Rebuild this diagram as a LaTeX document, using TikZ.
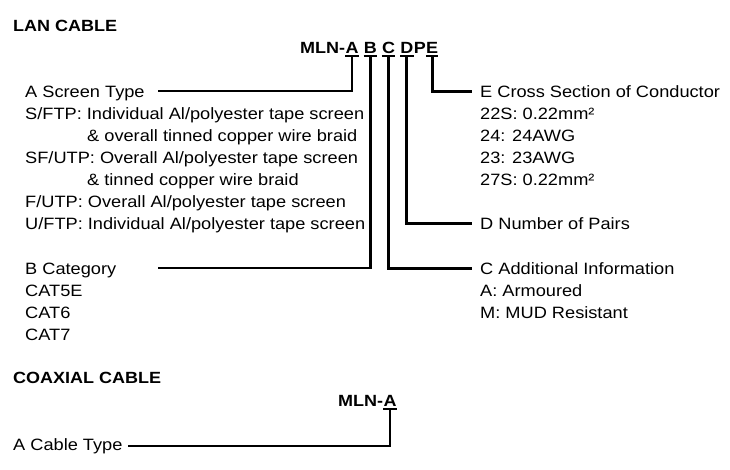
\documentclass[tikz,border=0pt]{standalone}
\usepackage{fontspec}
\setmainfont{Liberation Sans}[FakeStretch=1.11]
\usetikzlibrary{calc}
\begin{document}
\begin{tikzpicture}[x=1pt,y=-1pt,
  txt/.style={inner sep=0pt, anchor=base west, font=\fontsize{16.4}{19}\selectfont, text height=11.9pt, text depth=0pt},
  hdr/.style={txt, font=\fontsize{16.2}{19}\selectfont\bfseries},
  wire/.style={line width=2.9pt},
  uline/.style={line width=2.2pt}]
\useasboundingbox (0,0) rectangle (730,469);

% ---------- LAN CABLE ----------
\node[hdr] (lan) at (13,31) {LAN CABLE};
\node[hdr] (mln) at (300,53) {MLN-};
\node[hdr] (A) at (mln.base east) {A};
\node[hdr] (B) at ([xshift=4.9pt]A.base east) {B};
\node[hdr] (C) at ([xshift=4.9pt]B.base east) {C};
\node[hdr] (D) at ([xshift=4.9pt]C.base east) {D};
\node[hdr] (P) at (D.base east) {P};
\node[hdr] (E) at (P.base east) {E};
\foreach \n in {A,B,C,D,E}
  \draw[uline] ([yshift=-3pt]\n.base west) -- ([yshift=-3pt]\n.base east);

% left column
\node[txt] (a0) at (25,97)  {A Screen Type};
\node[txt] (a1) at (25,119) {S/FTP: Individual Al/polyester tape screen};
\node[txt] (a2) at (87,141) {\& overall tinned copper wire braid};
\node[txt] (a3) at (25,163) {SF/UTP: Overall Al/polyester tape screen};
\node[txt] (a4) at (87,185) {\& tinned copper wire braid};
\node[txt] (a5) at (25,207) {F/UTP: Overall Al/polyester tape screen};
\node[txt] (a6) at (25,229) {U/FTP: Individual Al/polyester tape screen};

\node[txt] (b0) at (25,274) {B Category};
\node[txt] (b1) at (25,296) {CAT5E};
\node[txt] (b2) at (25,318) {CAT6};
\node[txt] (b3) at (25,340) {CAT7};

% right column
\node[txt] (e0) at (480,97)  {E Cross Section of Conductor};
\node[txt] (e1) at (480,119) {22S: 0.22mm²};
\node[txt] (e2) at (480,141) {24: 24AWG};
\node[txt] (e3) at (480,163) {23: 23AWG};
\node[txt] (e4) at (480,185) {27S: 0.22mm²};

\node[txt] (d0) at (480,229) {D Number of Pairs};

\node[txt] (c0) at (480,274) {C Additional Information};
\node[txt] (c1) at (480,296) {A: Armoured};
\node[txt] (c2) at (480,318) {M: MUD Resistant};

% connectors
\coordinate (aL) at (158,91);
\coordinate (bL) at (158,268);
\draw[wire] ([yshift=-3pt]A.base) |- (aL);
\draw[wire] ([yshift=-3pt]B.base) |- (bL);
\draw[wire] ([yshift=-3pt]C.base) |- ([xshift=-8pt]c0.west);
\draw[wire] ([yshift=-3pt]D.base) |- ([xshift=-8pt]d0.west);
\draw[wire] ([yshift=-3pt]E.base) |- ([xshift=-8pt]e0.west);

% ---------- COAXIAL CABLE ----------
\node[hdr] (coax) at (13,383) {COAXIAL CABLE};
\node[hdr] (mln2) at (338,406) {MLN-};
\node[hdr] (A2) at (mln2.base east) {A};
\draw[uline] ([yshift=-3pt]A2.base west) -- ([yshift=-3pt]A2.base east);
\node[txt] (ct) at (13,450) {A Cable Type};
\coordinate (ctL) at (128,446);
\draw[wire] ([yshift=-3pt]A2.base) |- (ctL);
\end{tikzpicture}
\end{document}
